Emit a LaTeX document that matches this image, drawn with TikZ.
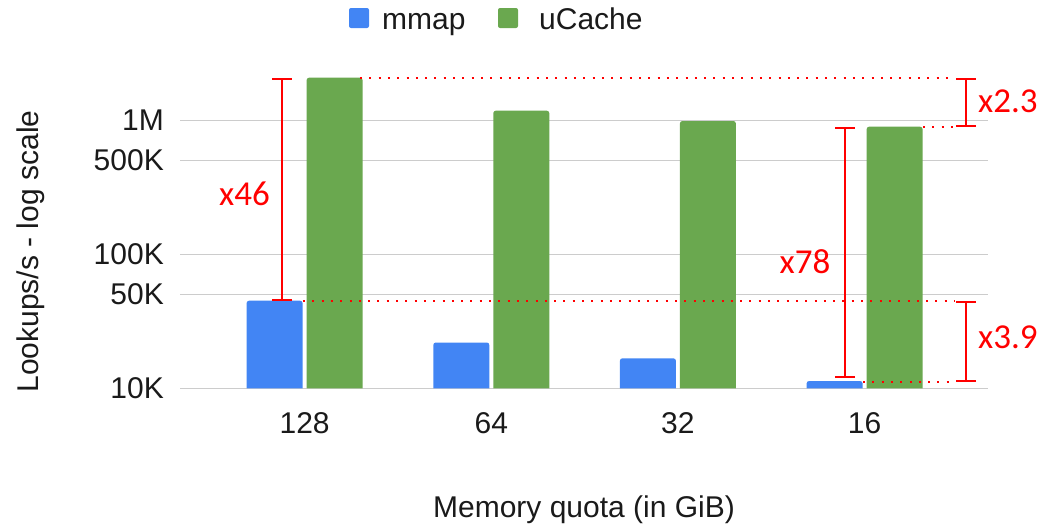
\documentclass[tikz,border=0pt]{standalone}
\usepackage{fontspec}
\setmainfont{Liberation Sans}
\newfontfamily\notefont{Carlito}
\usetikzlibrary{arrows.meta}

\definecolor{mmapblue}{HTML}{4285F4}
\definecolor{ucachegreen}{HTML}{6AA84F}
\definecolor{gridgray}{HTML}{CCCCCC}
\definecolor{annred}{HTML}{FF0000}
\definecolor{labelink}{HTML}{1A1A1A}

\begin{document}
\begin{tikzpicture}[
  x=1pt, y=-1pt,
  gridline/.style={draw=gridgray, line width=1.5pt},
  ticklabel/.style={anchor=east, inner sep=0pt, text=labelink,
    font=\fontsize{30}{36}\selectfont},
  catlabel/.style={anchor=base, inner sep=0pt, text=labelink,
    font=\fontsize{30}{36}\selectfont},
  axistitle/.style={anchor=base, inner sep=0pt, text=labelink,
    font=\fontsize{30}{36}\selectfont},
  legendtext/.style={anchor=base west, inner sep=0pt, text=labelink,
    font=\fontsize{30}{36}\selectfont},
  legendkey/.style={rounded corners=2pt},
  bracket/.style={draw=annred, line width=2pt,
    {Bar[width=20pt,line width=2pt]}-{Bar[width=20pt,line width=2pt]}},
  guide/.style={draw=annred, line width=2pt, dash pattern=on 2pt off 7.3pt},
  note/.style={anchor=base, inner sep=0pt, text=annred,
    font=\notefont\fontsize{35}{40}\selectfont},
]
\useasboundingbox (0,0) rectangle (1055,525);

% horizontal grid (log scale: 134 units per decade, 10K at 388.3)
\foreach \gy/\gl in {388.3/10K, 294.6/50K, 254.3/100K, 160.6/500K, 120.3/1M} {
  \draw[gridline] (180,\gy) -- (988,\gy);
  \node[ticklabel] (tick\gl) at (164,\gy) {\gl};
}

% bars per memory quota
\foreach \c/\lab/\bt/\gt in {304.6/128/300.7/77.7, 491.3/64/342.5/110.7,
                             677.9/32/358.3/121, 864.6/16/381/126.7} {
  \fill[mmapblue] ({\c-58},388.3) [rounded corners=2.5pt] -- ({\c-58},\bt)
    -- ({\c-2},\bt) [sharp corners] -- ({\c-2},388.3) -- cycle;
  \fill[ucachegreen] ({\c+2},388.3) [rounded corners=2.5pt] -- ({\c+2},\gt)
    -- ({\c+58},\gt) [sharp corners] -- ({\c+58},388.3) -- cycle;
  \node[catlabel] (cat\lab) at (\c,433) {\lab};
}

% axis titles
\node[axistitle, rotate=90] (ytitle) at (38.5,251.5) {Lookups/s - log scale};
\node[axistitle] (xtitle) at (584,517) {Memory quota (in GiB)};

% legend
\fill[mmapblue, legendkey] (349,8) rectangle (369,28);
\node[legendtext] (legmmap) at (382,29) {mmap};
\fill[ucachegreen, legendkey] (498,8) rectangle (518,28);
\node[legendtext] (legucache) at (539,29) {uCache};

% reference levels for the speed-up annotations
\coordinate (top128) at (282,78);
\coordinate (base128) at (282,300.5);
\coordinate (top16) at (845,127);
\coordinate (base16) at (845,378);
\coordinate (rhi) at (966,78);
\coordinate (rmid) at (966,127);
\coordinate (rlo) at (966,300.5);
\coordinate (rbot) at (966,382);

% dotted guide lines
\draw[guide] (360,78) -- ([xshift=-11pt]rhi);
\draw[guide] (923,127) -- ([xshift=-11pt]rmid);
\draw[guide] (303,300.5) -- ([xshift=-11pt]rlo);
\draw[guide] (863,382) -- ([xshift=-11pt]rbot);

% speed-up brackets
\draw[bracket] (top128) -- (base128);
\draw[bracket] (top16) -- (base16);
\draw[bracket] (rhi) -- (rmid);
\draw[bracket] (rlo) -- (rbot);

% speed-up labels
\node[note] (n46) at (244.5,205) {x46};
\node[note] (n78) at (805,273) {x78};
\node[note, anchor=base west] (n23) at (978,112) {x2.3};
\node[note, anchor=base west] (n39) at (978,348) {x3.9};
\end{tikzpicture}
\end{document}
